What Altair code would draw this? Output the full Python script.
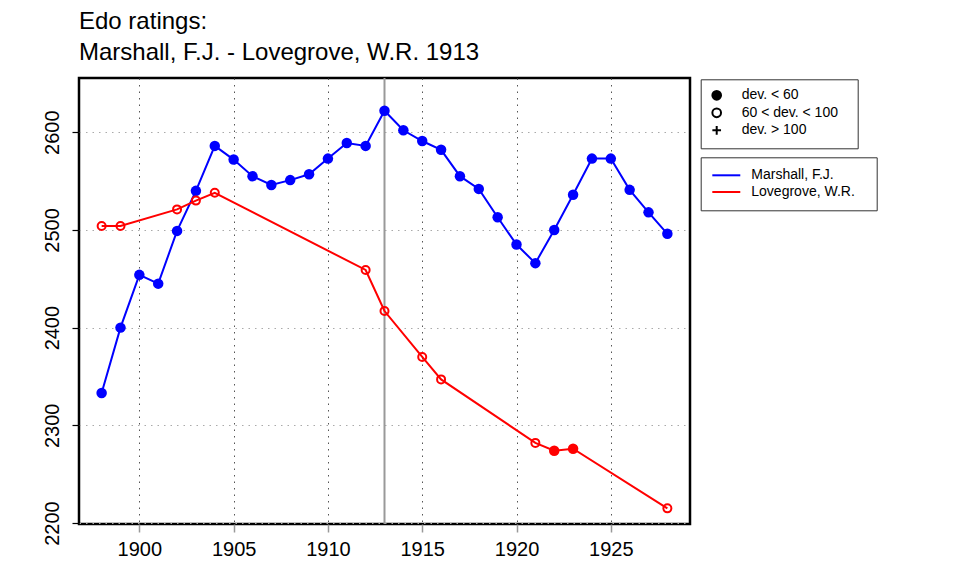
import altair as alt
import pandas as pd

# ---- data ----
players = ["Marshall, F.J.", "Lovegrove, W.R."]
player_colors = ["#0000ff", "#ff0000"]
dev_labels = ["dev. < 60", "60 < dev. < 100", "dev. > 100"]

m_years = list(range(1898, 1929))
m_ratings = [2333, 2400, 2454, 2445, 2499, 2540, 2586, 2572, 2555, 2546,
             2551, 2557, 2573, 2589, 2586, 2622, 2602, 2591, 2582, 2555,
             2542, 2513, 2485, 2466, 2500, 2536, 2573, 2573, 2541, 2518, 2496]
m_dev = ["dev. < 60"] * len(m_years)

l_years = [1898, 1899, 1902, 1903, 1904, 1912, 1913, 1915, 1916, 1921, 1922, 1923, 1928]
l_ratings = [2504, 2504, 2521, 2530, 2538, 2459, 2417, 2370, 2347, 2282, 2274, 2276, 2215]
l_dev = ["60 < dev. < 100", "60 < dev. < 100", "60 < dev. < 100", "60 < dev. < 100",
         "60 < dev. < 100", "60 < dev. < 100", "60 < dev. < 100", "60 < dev. < 100",
         "60 < dev. < 100", "60 < dev. < 100", "dev. < 60", "dev. < 60", "60 < dev. < 100"]

event_year = [1913]
x_ticks = [1900, 1905, 1910, 1915, 1920, 1925]
y_ticks = [2200, 2300, 2400, 2500, 2600]
title_lines = ["Edo ratings:", "Marshall, F.J. - Lovegrove, W.R. 1913"]

# ---- tables ----
rows = []
for y, r, d in zip(m_years, m_ratings, m_dev):
    rows.append({"year": y, "rating": r, "player": players[0], "dev": d})
for y, r, d in zip(l_years, l_ratings, l_dev):
    rows.append({"year": y, "rating": r, "player": players[1], "dev": d})
df = pd.DataFrame(rows)
rule_df = pd.DataFrame({"year": event_year})

FONT = "Liberation Sans, Arial, Helvetica, sans-serif"
PAD_CHAR = "\u2800"  # blank glyph used to widen legend boxes a little

x_enc = alt.X(
    "year:Q",
    scale=alt.Scale(domain=[1896.8, 1929.2], nice=False, zero=False),
    axis=alt.Axis(values=x_ticks, format="d", title=None, domain=False,
                  labelFont=FONT, labelFontSize=20, labelColor="black",
                  labelPadding=7, tickColor="#999999", tickSize=8, tickWidth=1.5,
                  grid=True, gridColor="#555555", gridDash=[1.5, 5], gridWidth=1),
)
y_enc = alt.Y(
    "rating:Q",
    scale=alt.Scale(domain=[2199, 2655.5], nice=False, zero=False),
    axis=alt.Axis(values=y_ticks, format="d", title=None, domain=False,
                  labelFont=FONT, labelFontSize=20, labelColor="black",
                  labelAngle=270, labelPadding=10,
                  tickColor="black", tickSize=7, tickWidth=1.2,
                  grid=True, gridColor="#aaaaaa", gridDash=[1.5, 5], gridWidth=1),
)

player_legend = alt.Legend(
    title=None, orient="none", legendX=621.7, legendY=79.3,
    padding=11, strokeColor="#333333", fillColor="white",
    symbolType="M-3,0L3,0", symbolSize=87, symbolStrokeWidth=2, symbolOffset=7.6,
    labelFont=FONT, labelFontSize=14, labelColor="black", labelOffset=18,
    labelExpr="datum.label + '" + PAD_CHAR + "'",
    rowPadding=2.7,
)
color_enc = alt.Color("player:N",
                      scale=alt.Scale(domain=players, range=player_colors),
                      legend=player_legend)

dev_legend = alt.Legend(
    title=None, orient="none", legendX=621.7, legendY=1.3,
    padding=9, strokeColor="#333333", fillColor="white",
    symbolSize=75, symbolStrokeWidth=2, symbolOpacity=1,
    labelFont=FONT, labelFontSize=14, labelColor="black", labelOffset=18,
    labelExpr="datum.label + '" + PAD_CHAR + "'",
    rowPadding=-0.5,
)
plus_path = "M-1,0L1,0M0,-1L0,1"

base = alt.Chart(df)

lines = base.mark_line(strokeWidth=2).encode(
    x=x_enc, y=y_enc, color=color_enc, order="year:Q")

filled_pts = base.transform_filter(alt.datum.dev == "dev. < 60").mark_circle(
    size=110, opacity=1).encode(x=x_enc, y=y_enc, color=color_enc)

open_pts = base.transform_filter(alt.datum.dev == "60 < dev. < 100").mark_point(
    size=64, filled=False, strokeWidth=2, opacity=1).encode(
    x=x_enc, y=y_enc, color=color_enc)

dev_layer = base.mark_point(filled=True, opacity=0).encode(
    x=x_enc, y=y_enc,
    shape=alt.Shape("dev:N", scale=alt.Scale(domain=dev_labels,
                                             range=["circle", "circle", plus_path]),
                    legend=dev_legend),
    fill=alt.Fill("dev:N", scale=alt.Scale(domain=dev_labels,
                                           range=["black", "white", "transparent"]),
                  legend=dev_legend),
    stroke=alt.Stroke("dev:N", scale=alt.Scale(domain=dev_labels,
                                               range=["black", "black", "black"]),
                      legend=dev_legend),
)

event_rule = alt.Chart(rule_df).mark_rule(color="#999999", strokeWidth=2).encode(
    x=x_enc)

chart = alt.layer(event_rule, lines, filled_pts, open_pts, dev_layer).properties(
    width=611, height=446,
    title=alt.TitleParams(text=title_lines, anchor="start", frame="group",
                          font=FONT, fontSize=24,
                          fontWeight="normal", color="black", lineHeight=31,
                          offset=12),
    autosize=alt.AutoSizeParams(type="none"),
    padding={"left": 71, "top": 70, "right": 262, "bottom": 44},
).resolve_scale(color="shared").configure(
    background="white"
).configure_view(
    stroke="black", strokeWidth=2.5
)

chart.save("out.html", embed_options={"renderer": "svg", "actions": False})
